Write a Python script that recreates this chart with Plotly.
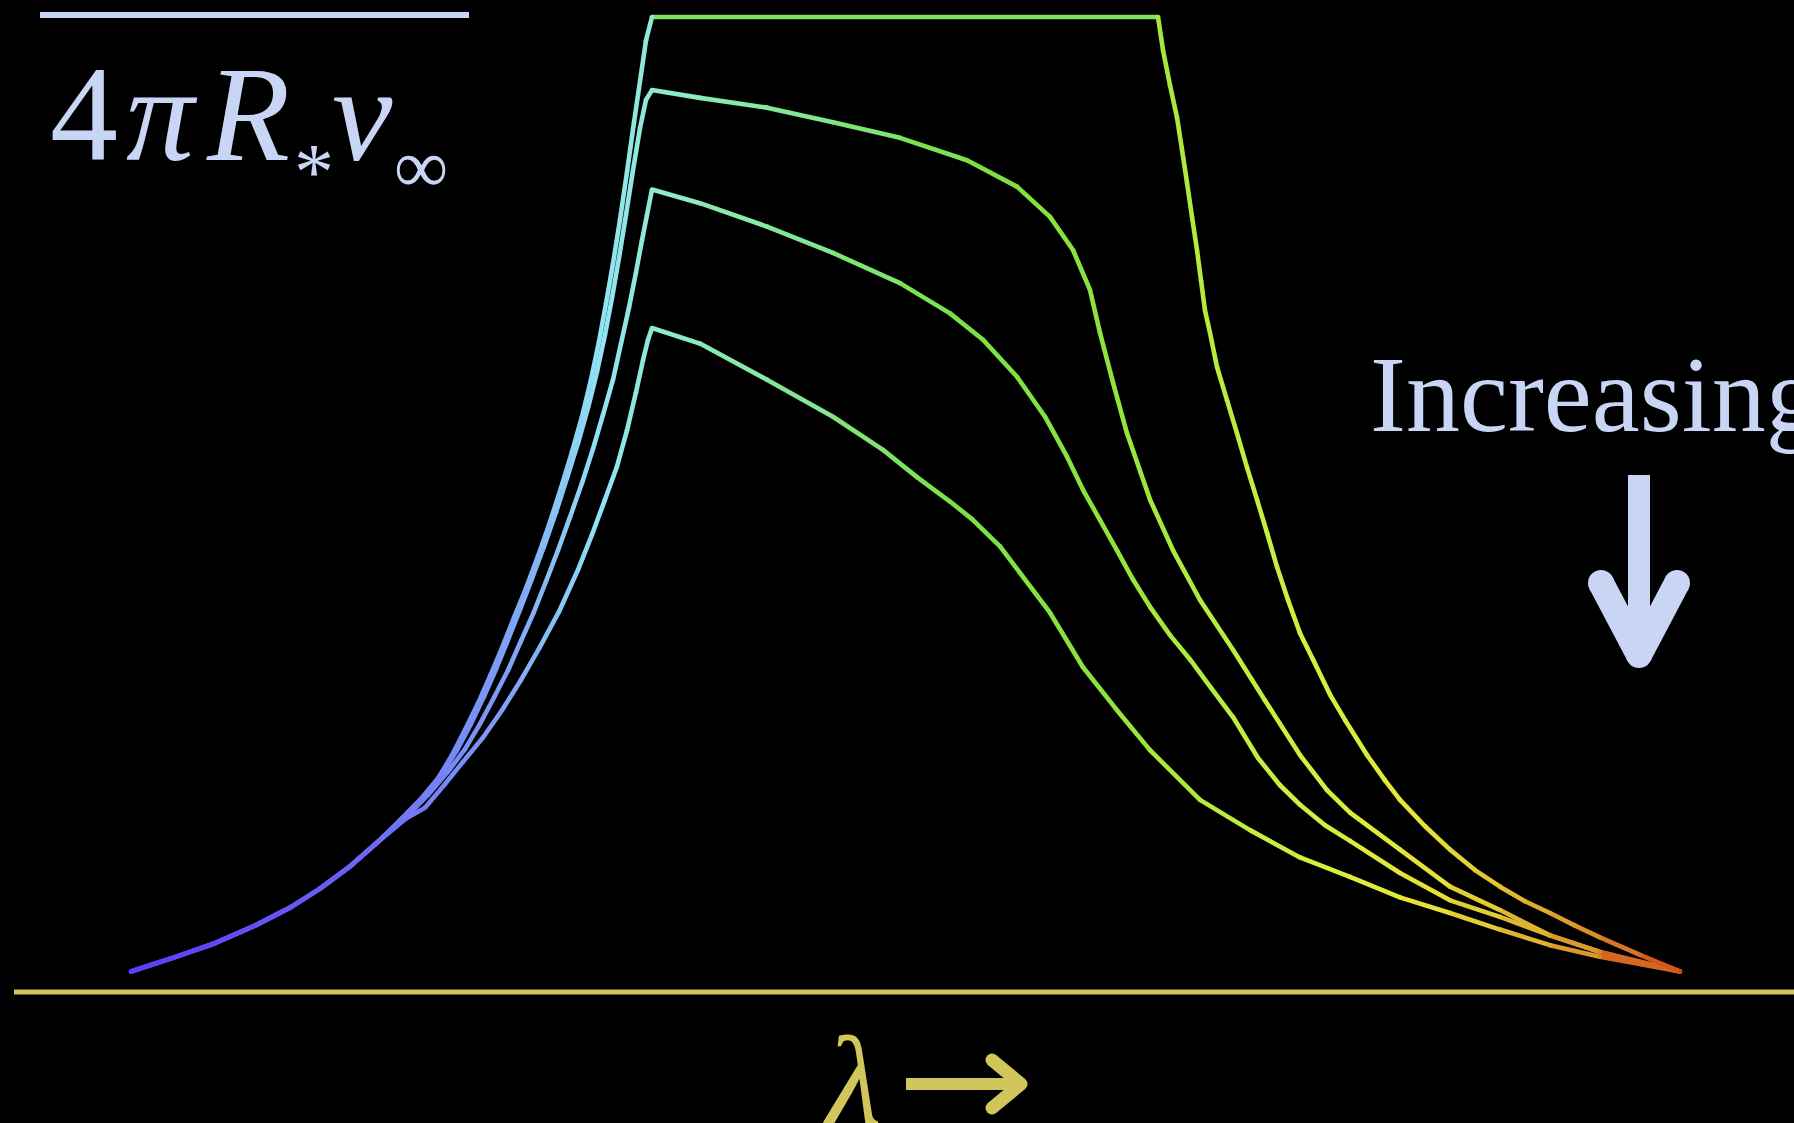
import plotly.graph_objects as go
from plotly.colors import sample_colorscale

# Line profiles: Doppler velocity (km/s) and flux normalised to the flat top.
# Profile 1 is the flat-topped one, 2-4 follow the "increasing" arrow downwards.
vel_1 = [-7740, -7350, -6900, -6500, -6140, -5850, -5560, -5270, -5050, -4850, -4670, -4530,
         -4400, -4270, -4150, -4030, -3910, -3790, -3670, -3550, -3440, -3330, -3230, -3140,
         -3060, -2990, -2920, -2850, -2780, -2710, -2640, -2590, -2530,
         2530, 2580, 2650, 2720, 2770, 2820, 2870, 2920, 2960, 3000, 3050, 3120, 3220, 3320,
         3420, 3520, 3620, 3720, 3830, 3950, 4080, 4250, 4400, 4620, 4800, 4950, 5200, 5450,
         5700, 5950, 6200, 6450, 6700, 6950, 7350, 7750]
flux_1 = [0.021, 0.034, 0.050, 0.068, 0.087, 0.106, 0.128, 0.154, 0.176, 0.197, 0.219, 0.243,
          0.269, 0.296, 0.324, 0.353, 0.384, 0.414, 0.447, 0.482, 0.517, 0.554, 0.590, 0.628,
          0.667, 0.706, 0.747, 0.792, 0.841, 0.892, 0.941, 0.976, 1.000,
          1.000, 0.966, 0.930, 0.897, 0.864, 0.830, 0.795, 0.761, 0.730, 0.699, 0.676, 0.641,
          0.607, 0.573, 0.538, 0.505, 0.471, 0.436, 0.402, 0.368, 0.341, 0.305, 0.279, 0.243,
          0.217, 0.197, 0.170, 0.146, 0.125, 0.108, 0.093, 0.081, 0.068, 0.056, 0.038, 0.021]

vel_2 = [-7740, -7350, -6900, -6500, -6140, -5850, -5560, -5270, -5030, -4820, -4630, -4480,
         -4340, -4210, -4090, -3970, -3850, -3730, -3610, -3490, -3380, -3270, -3170, -3080,
         -3000, -2930, -2860, -2790, -2720, -2650, -2590, -2530,
         -2050, -1380, -720, -50, 620, 1120, 1450, 1680, 1850, 1950, 2080, 2220, 2450, 2680,
         2950, 3280, 3600, 3950, 4220, 4450, 4950, 5450, 5950, 6450, 6950, 7750]
flux_2 = [0.021, 0.034, 0.050, 0.068, 0.087, 0.106, 0.128, 0.154, 0.178, 0.200, 0.224, 0.248,
          0.275, 0.303, 0.331, 0.361, 0.392, 0.424, 0.457, 0.492, 0.527, 0.563, 0.599, 0.636,
          0.674, 0.712, 0.753, 0.797, 0.843, 0.886, 0.915, 0.925,
          0.917, 0.907, 0.892, 0.876, 0.853, 0.826, 0.795, 0.761, 0.720, 0.676, 0.625, 0.573,
          0.505, 0.453, 0.402, 0.351, 0.299, 0.243, 0.207, 0.184, 0.146, 0.108, 0.084, 0.058,
          0.041, 0.021]

vel_3 = [-7740, -7350, -6900, -6500, -6140, -5850, -5560, -5270, -4990, -4770, -4570, -4400,
         -4250, -4110, -3970, -3840, -3710, -3590, -3470, -3350, -3230, -3120, -3020, -2920,
         -2840, -2760, -2690, -2630, -2580, -2530,
         -2050, -1380, -720, -50, 450, 780, 1120, 1400, 1620, 1780, 1950, 2120, 2280, 2450,
         2650, 2850, 3060, 3280, 3530, 3750, 3950, 4200, 4450, 4950, 5450, 5950, 6450, 6950,
         7750]
flux_3 = [0.021, 0.034, 0.050, 0.068, 0.087, 0.106, 0.128, 0.154, 0.179, 0.202, 0.226, 0.249,
          0.275, 0.302, 0.330, 0.360, 0.390, 0.421, 0.453, 0.487, 0.522, 0.557, 0.592, 0.628,
          0.665, 0.702, 0.738, 0.771, 0.797, 0.823,
          0.809, 0.785, 0.758, 0.727, 0.696, 0.669, 0.631, 0.590, 0.549, 0.515, 0.484, 0.453,
          0.423, 0.395, 0.366, 0.341, 0.312, 0.282, 0.240, 0.212, 0.192, 0.171, 0.155, 0.122,
          0.094, 0.077, 0.058, 0.041, 0.021]

vel_4 = [-7740, -7350, -6900, -6500, -6140, -5850, -5560, -5270, -4990, -4800, -4610, -4420,
         -4220, -4030, -3840, -3650, -3460, -3270, -3130, -3000, -2880, -2780, -2690, -2620,
         -2570, -2530,
         -2050, -1380, -720, -220, 120, 450, 670, 950, 1450, 1780, 2120, 2450, 2950, 3450, 3950,
         4450, 4950, 5450, 5950, 6450, 6950, 7750]
flux_4 = [0.021, 0.034, 0.050, 0.068, 0.087, 0.106, 0.128, 0.154, 0.178, 0.189, 0.212, 0.236,
          0.261, 0.289, 0.320, 0.354, 0.390, 0.433, 0.469, 0.505, 0.539, 0.576, 0.615, 0.648,
          0.669, 0.681,
          0.665, 0.628, 0.590, 0.556, 0.528, 0.503, 0.485, 0.457, 0.389, 0.333, 0.289, 0.248,
          0.197, 0.166, 0.138, 0.118, 0.097, 0.081, 0.064, 0.048, 0.036, 0.021]

W, H = 1794, 1123
LAVENDER = "#c9d5f5"
GOLD = "#d1c65c"
VMIN, VMAX = -7740, 7750
SERIF = "Liberation Serif"

# wavelength colouring, blue side to red side
spectrum = [
    [0.000, "#5a3cf2"], [0.140, "#6a60f4"], [0.240, "#7d9ef6"], [0.304, "#92e4f4"],
    [0.353, "#8eecc4"], [0.435, "#82e690"], [0.533, "#7ae046"], [0.631, "#8ee23e"],
    [0.680, "#b0ea3e"], [0.760, "#d2f040"], [0.827, "#e6e63a"], [0.884, "#e2c232"],
    [0.941, "#d8902c"], [1.000, "#d0481a"],
]


def colour_at(v):
    t = min(max((v - VMIN) / (VMAX - VMIN), 0), 1)
    return sample_colorscale(spectrum, [t])[0]


def px(x):
    return x / W


def py(y):
    return 1 - y / H


fig = go.Figure()

curves = [(vel_4, flux_4), (vel_3, flux_3), (vel_2, flux_2), (vel_1, flux_1)]
for xs, ys in curves:
    # one short trace per segment so the colour can follow wavelength
    for i in range(len(xs) - 1):
        fig.add_trace(go.Scatter(
            x=xs[i:i + 2], y=ys[i:i + 2], mode="lines",
            line=dict(color=colour_at((xs[i] + xs[i + 1]) / 2), width=4.6),
            hoverinfo="skip"))
    fig.add_trace(go.Scatter(
        x=xs, y=ys, mode="markers",
        marker=dict(size=4.6, color=[colour_at(v) for v in xs], line=dict(width=0)),
        hoverinfo="skip"))

shapes = []
# wavelength axis
shapes.append(dict(type="line", xref="paper", yref="y", x0=px(14), x1=1.0, y0=0, y1=0,
                   line=dict(color=GOLD, width=5)))
# fraction bar above the normalisation
shapes.append(dict(type="line", xref="paper", yref="paper", x0=px(40), x1=px(469),
                   y0=py(15), y1=py(15), line=dict(color=LAVENDER, width=6)))


def arrow_head(segs, width, colour, round_pts):
    out = []
    for (x0, y0), (x1, y1) in segs:
        out.append(dict(type="line", xref="paper", yref="paper", x0=px(x0), y0=py(y0),
                        x1=px(x1), y1=py(y1), line=dict(color=colour, width=width)))
    r = width / 2
    for cx, cy in round_pts:
        out.append(dict(type="circle", xref="paper", yref="paper",
                        x0=px(cx - r), x1=px(cx + r), y0=py(cy + r), y1=py(cy - r),
                        fillcolor=colour, line=dict(width=0)))
    return out


# down arrow under "Increasing"
shapes.append(dict(type="line", xref="paper", yref="paper", x0=px(1639), x1=px(1639),
                   y0=py(475), y1=py(648), line=dict(color=LAVENDER, width=22)))
shapes += arrow_head([((1601, 583), (1639, 655)), ((1677, 583), (1639, 655))], 26, LAVENDER,
                     [(1601, 583), (1677, 583), (1639, 655)])

# right arrow after lambda
shapes.append(dict(type="line", xref="paper", yref="paper", x0=px(906), x1=px(1015),
                   y0=py(1084), y1=py(1084), line=dict(color=GOLD, width=12)))
shapes += arrow_head([((992, 1060), (1021, 1084)), ((992, 1108), (1021, 1084))], 13, GOLD,
                     [(992, 1060), (992, 1108), (1021, 1084)])


def label(text, x, y, size, colour):
    return dict(text=text, xref="paper", yref="paper", x=px(x), y=py(y),
                xanchor="left", yanchor="middle", showarrow=False,
                font=dict(family=SERIF, size=size, color=colour))


annotations = [
    # normalisation 4 pi R_* v_inf, set piece by piece like the math typesetting
    label("4", 48, 114, 136, LAVENDER),
    label("<i>π</i>", 124, 114, 136, LAVENDER),
    label("<i>R</i>", 204, 114, 136, LAVENDER),
    label("*", 292, 172, 80, LAVENDER),
    label("<i>v</i>", 330, 114, 136, LAVENDER),
    label("∞", 392, 166, 76, LAVENDER),
    label("Increasing", 1368, 394, 108, LAVENDER),
    label("<i>λ</i>", 820, 1081, 128, GOLD),
]

fig.update_layout(
    width=W, height=H,
    margin=dict(l=0, r=0, t=0, b=0),
    paper_bgcolor="black", plot_bgcolor="black",
    showlegend=False,
    xaxis=dict(range=[-9050, 8890], visible=False, fixedrange=True),
    yaxis=dict(range=[-0.1344, 1.0174], visible=False, fixedrange=True),
    shapes=shapes,
    annotations=annotations,
)

fig.write_html(
    "out.html",
    config={"displayModeBar": False},
    post_script="document.body.style.margin='0';document.body.style.overflow='hidden';"
                "document.body.style.background='black';",
)
